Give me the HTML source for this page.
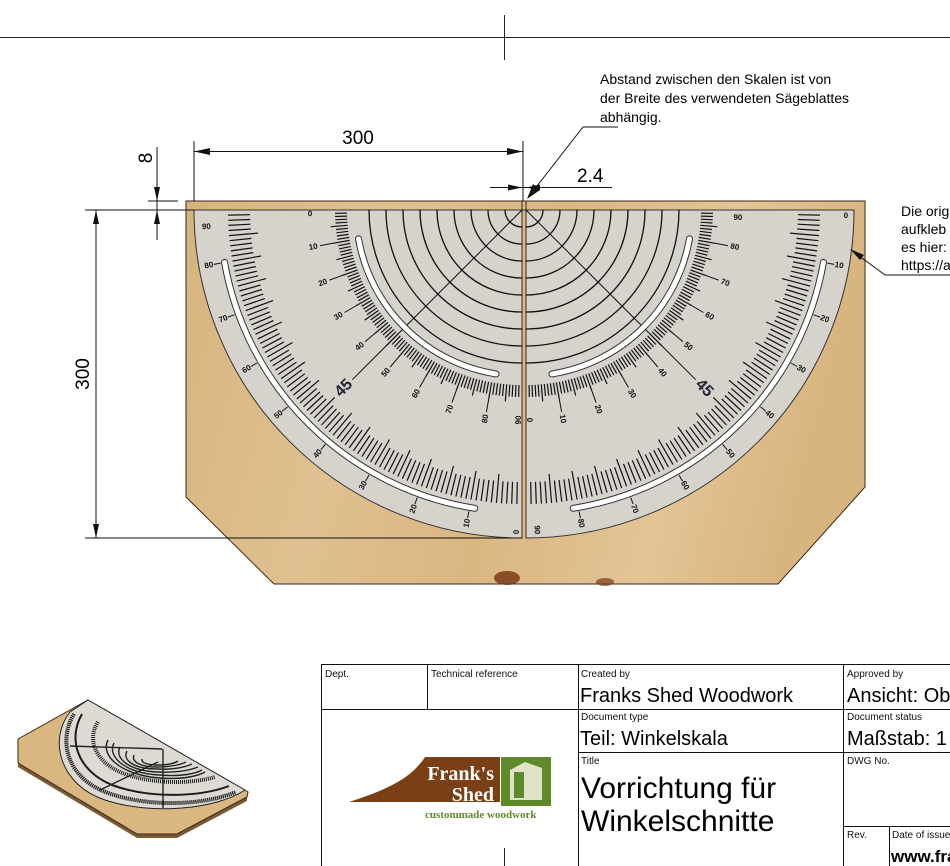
<!DOCTYPE html>
<html><head><meta charset="utf-8"><style>
html,body{margin:0;padding:0;background:#fff;}
svg{display:block;font-family:"Liberation Sans",Arial,sans-serif;}
.lbl{font-size:8px;fill:#111;text-anchor:middle;dominant-baseline:central;font-weight:bold}
.tb{font-size:10px;fill:#111}
.tv{font-size:20px;fill:#000}
</style></head><body>
<svg id="s" width="950" height="866" viewBox="0 0 950 866" xmlns="http://www.w3.org/2000/svg">
<defs>
<linearGradient id="wood" x1="0" y1="0" x2="1" y2="0.15">
<stop offset="0" stop-color="#d6b47e"/><stop offset="0.3" stop-color="#e0c090"/><stop offset="0.55" stop-color="#dab682"/><stop offset="0.8" stop-color="#e3c495"/><stop offset="1" stop-color="#d8b47f"/>
</linearGradient>
</defs>
<line x1="0" y1="37.5" x2="950" y2="37.5" stroke="#222" stroke-width="1"/>
<line x1="504.5" y1="15" x2="504.5" y2="60" stroke="#222"/>
<line x1="504.5" y1="848" x2="504.5" y2="866" stroke="#222"/>

<polygon points="186,201 865,201 865,487 778,584 274,584 186,497" fill="url(#wood)" stroke="#3a2a18" stroke-width="1"/>
<ellipse cx="507" cy="578" rx="13" ry="7" fill="#7a3a18" opacity="0.85"/>
<ellipse cx="605" cy="582" rx="9" ry="4" fill="#7a3a18" opacity="0.7"/>

<path d="M194,210 A328,328 0 0 0 522,538 L522,210 Z" fill="#d5d3cc" stroke="#333" stroke-width="1"/>
<path d="M526,210 L526,538 A328,328 0 0 0 854,210 Z" fill="#d5d3cc" stroke="#333" stroke-width="1"/>
<line x1="522" y1="201" x2="522" y2="538" stroke="#3a2a18"/>
<line x1="526" y1="201" x2="526" y2="538" stroke="#3a2a18"/>
<line x1="194" y1="210" x2="854" y2="210" stroke="#333"/>
<g id="ticks" stroke="#111" fill="none"></g>

<g class="lbl">
<text class="lbl" transform="rotate(-3 522 210)" x="206" y="210">90</text>
<text class="lbl" transform="rotate(-10 522 210)" x="204" y="210">80</text>
<text class="lbl" transform="rotate(-20 522 210)" x="204" y="210">70</text>
<text class="lbl" transform="rotate(-30 522 210)" x="204" y="210">60</text>
<text class="lbl" transform="rotate(-40 522 210)" x="204" y="210">50</text>
<text class="lbl" transform="rotate(-50 522 210)" x="204" y="210">40</text>
<text class="lbl" transform="rotate(-60 522 210)" x="204" y="210">30</text>
<text class="lbl" transform="rotate(-70 522 210)" x="204" y="210">20</text>
<text class="lbl" transform="rotate(-80 522 210)" x="204" y="210">10</text>
<text class="lbl" transform="rotate(-89 522 210)" x="200" y="210">0</text>
<text class="lbl" transform="rotate(-1 522 210)" x="310" y="210">0</text>
<text class="lbl" transform="rotate(-10 522 210)" x="310" y="210">10</text>
<text class="lbl" transform="rotate(-20 522 210)" x="310" y="210">20</text>
<text class="lbl" transform="rotate(-30 522 210)" x="310" y="210">30</text>
<text class="lbl" transform="rotate(-40 522 210)" x="310" y="210">40</text>
<text class="lbl" transform="rotate(-50 522 210)" x="310" y="210">50</text>
<text class="lbl" transform="rotate(-60 522 210)" x="310" y="210">60</text>
<text class="lbl" transform="rotate(-70 522 210)" x="310" y="210">70</text>
<text class="lbl" transform="rotate(-80 522 210)" x="310" y="210">80</text>
<text class="lbl" transform="rotate(-89 522 210)" x="312" y="210">90</text>
<text transform="rotate(-45 522 210)" x="270" y="210" style="font-size:16px;fill:#223;text-anchor:middle;dominant-baseline:central">45</text>
<text class="lbl" transform="rotate(1 526 210)" x="846" y="210">0</text>
<text class="lbl" transform="rotate(10 526 210)" x="844" y="210">10</text>
<text class="lbl" transform="rotate(20 526 210)" x="844" y="210">20</text>
<text class="lbl" transform="rotate(30 526 210)" x="844" y="210">30</text>
<text class="lbl" transform="rotate(40 526 210)" x="844" y="210">40</text>
<text class="lbl" transform="rotate(50 526 210)" x="844" y="210">50</text>
<text class="lbl" transform="rotate(60 526 210)" x="844" y="210">60</text>
<text class="lbl" transform="rotate(70 526 210)" x="844" y="210">70</text>
<text class="lbl" transform="rotate(80 526 210)" x="844" y="210">80</text>
<text class="lbl" transform="rotate(88 526 210)" x="846" y="210">90</text>
<text class="lbl" transform="rotate(2 526 210)" x="738" y="210">90</text>
<text class="lbl" transform="rotate(10 526 210)" x="738" y="210">80</text>
<text class="lbl" transform="rotate(20 526 210)" x="738" y="210">70</text>
<text class="lbl" transform="rotate(30 526 210)" x="738" y="210">60</text>
<text class="lbl" transform="rotate(40 526 210)" x="738" y="210">50</text>
<text class="lbl" transform="rotate(50 526 210)" x="738" y="210">40</text>
<text class="lbl" transform="rotate(60 526 210)" x="738" y="210">30</text>
<text class="lbl" transform="rotate(70 526 210)" x="738" y="210">20</text>
<text class="lbl" transform="rotate(80 526 210)" x="738" y="210">10</text>
<text class="lbl" transform="rotate(89 526 210)" x="736" y="210">0</text>
<text transform="rotate(45 526 210)" x="778" y="210" style="font-size:16px;fill:#223;text-anchor:middle;dominant-baseline:central">45</text>
</g>

<g stroke="#111" stroke-width="1" fill="none">
<line x1="194" y1="141" x2="194" y2="201"/>
<line x1="523" y1="141" x2="523" y2="201"/>
<line x1="194" y1="151.5" x2="523" y2="151.5"/>
<line x1="157" y1="147" x2="157" y2="240"/>
<line x1="148" y1="201" x2="178" y2="201"/>
<line x1="85" y1="210" x2="194" y2="210"/>
<line x1="85" y1="538" x2="522" y2="538"/>
<line x1="96" y1="210" x2="96" y2="538"/>
<line x1="490" y1="187.5" x2="612" y2="187.5"/>
<line x1="530" y1="195" x2="583" y2="127"/>
<line x1="583" y1="127" x2="618" y2="127"/>
<line x1="851" y1="250" x2="885" y2="275"/>
<line x1="885" y1="275" x2="950" y2="275"/>
</g>
<g fill="#111">
<polygon points="194,151.5 210,148 210,155"/>
<polygon points="523,151.5 507,148 507,155"/>
<polygon points="157,201 154,187 160,187"/>
<polygon points="157,210 154,224 160,224"/>
<polygon points="96,210 93,224 99,224"/>
<polygon points="96,538 93,524 99,524"/>
<polygon points="522,187.5 508,184.5 508,190.5"/>
<polygon points="526,187.5 540,184.5 540,190.5"/>
<polygon points="527,199 533,184 540,190"/>
<polygon points="850,249 864,255 860,260"/>
</g>
<text x="358" y="144" style="font-size:19px" text-anchor="middle">300</text>
<text transform="rotate(-90 152 158)" x="152" y="158" style="font-size:19px" text-anchor="middle">8</text>
<text transform="rotate(-90 89 374)" x="89" y="374" style="font-size:19px" text-anchor="middle">300</text>
<text x="577" y="182" style="font-size:19px">2.4</text>
<text x="600" y="84" style="font-size:14px">Abstand zwischen den Skalen ist von</text>
<text x="600" y="103" style="font-size:14px">der Breite des verwendeten Sägeblattes</text>
<text x="600" y="122" style="font-size:14px">abhängig.</text>
<text x="901" y="216" style="font-size:14px">Die orig</text>
<text x="901" y="234" style="font-size:14px">aufkleb</text>
<text x="901" y="252" style="font-size:14px">es hier:</text>
<text x="901" y="270" style="font-size:14px">https://a</text>

<!-- iso view -->
<path d="M18,763 L137,834 L177,834 L247,797 L247,801 L177,838 L137,838 L18,767Z" fill="#7a5a34"/>
<path d="M88,700 L248,792 L247,797 L177,834 L137,834 L18,763 L18,739 Z" fill="#dab680" stroke="#3a2a18"/>
<path d="M88,700 L245,790 C215,810 150,815 105,800 C60,785 48,740 70,712 Z" fill="#dcdad3" stroke="#222"/>
<g fill="none" stroke="#1a1a1a">
<path d="M74,714 C58,740 66,778 108,793 C150,808 205,805 236,792" stroke-width="4" stroke-dasharray="1.2 0.8"/>
<path d="M82,714 C68,738 76,770 112,785 C150,799 200,797 229,786" stroke-width="2"/>
<path d="M98,722 C86,740 96,765 128,775 C160,785 195,783 215,777" stroke-width="4" stroke-dasharray="1 1"/>
</g>
<g fill="none" stroke="#222" stroke-width="1.4">
<path d="M108,740 C100,755 120,775 160,778 C185,780 200,775 205,772"/>
<path d="M114,743 C107,756 124,773 159,775 C183,777 197,773 202,770"/>
<path d="M120,747 C114,758 129,771 158,772 C180,773 193,769 198,767"/>
<path d="M127,751 C122,760 134,769 157,769 C176,770 188,766 192,764"/>
<path d="M134,755 C131,762 141,767 157,767 C172,767 182,764 186,762"/>
<path d="M142,759 C141,763 148,765 158,765 C168,765 175,763 178,761"/>
<line x1="70" y1="746" x2="162" y2="749"/><line x1="163" y1="749" x2="163" y2="808"/>
<line x1="100" y1="790" x2="158" y2="762"/>
</g>

<g stroke="#111" stroke-width="1" fill="none">
<rect x="321.5" y="664.5" width="640" height="210"/>
<line x1="427.5" y1="664" x2="427.5" y2="709"/>
<line x1="578.5" y1="664" x2="578.5" y2="866"/>
<line x1="843.5" y1="664" x2="843.5" y2="866"/>
<line x1="321" y1="709.5" x2="950" y2="709.5"/>
<line x1="578" y1="752.5" x2="950" y2="752.5"/>
<line x1="843" y1="826.5" x2="950" y2="826.5"/>
<line x1="889.5" y1="826" x2="889.5" y2="866"/>
</g>
<text class="tb" x="325" y="677">Dept.</text>
<text class="tb" x="431" y="677">Technical reference</text>
<text class="tb" x="581" y="677">Created by</text>
<text class="tv" x="580" y="702">Franks Shed Woodwork</text>
<text class="tb" x="847" y="677">Approved by</text>
<text class="tv" x="847" y="702">Ansicht: Ob</text>
<text class="tb" x="581" y="720">Document type</text>
<text class="tv" x="580" y="745">Teil: Winkelskala</text>
<text class="tb" x="847" y="720">Document status</text>
<text class="tv" x="847" y="745">Maßstab: 1</text>
<text class="tb" x="581" y="764">Title</text>
<text x="581" y="798" style="font-size:30px">Vorrichtung für</text>
<text x="581" y="831" style="font-size:30px">Winkelschnitte</text>
<text class="tb" x="847" y="764">DWG No.</text>
<text class="tb" x="847" y="838">Rev.</text>
<text class="tb" x="892" y="838">Date of issue</text>
<text x="891" y="862" style="font-size:17px;font-weight:bold">www.fran</text>
<path d="M349,802 C385,790 410,780 425,757 L500,757 L500,802 Z" fill="#7a3f14"/>
<text x="494" y="780" style="font-family:'Liberation Serif',serif;font-size:20px;font-weight:bold;fill:#fff" text-anchor="end">Frank's</text>
<text x="494" y="801" style="font-family:'Liberation Serif',serif;font-size:20px;font-weight:bold;fill:#fff" text-anchor="end">Shed</text>
<rect x="501" y="757" width="50" height="49" fill="#5e8a2a"/>
<path d="M510,800 L510,770 L525,762 L542,768 L542,800 Z" fill="#dfe3c8"/>
<rect x="514" y="772" width="10" height="26" fill="#5e8a2a"/>
<text x="425" y="818" style="font-family:'Liberation Serif',serif;font-size:11px;fill:#5e8a2a;font-weight:bold">custommade woodwork</text>
</svg>
<script>
(function(){
var g=document.getElementById('ticks'),NS='http://www.w3.org/2000/svg';
function ln(x1,y1,x2,y2,w){var l=document.createElementNS(NS,'line');l.setAttribute('x1',x1.toFixed(1));l.setAttribute('y1',y1.toFixed(1));l.setAttribute('x2',x2.toFixed(1));l.setAttribute('y2',y2.toFixed(1));l.setAttribute('stroke-width',w||1);g.appendChild(l);}
function pt(side,r,a){var cx=side<0?522:526;var rad=a*Math.PI/180;return [cx+side*r*Math.cos(rad),210+r*Math.sin(rad)];}
function seg(side,r1,r2,a,w){var p=pt(side,r1,a),q=pt(side,r2,a);ln(p[0],p[1],q[0],q[1],w);}
function arc(side,r,a1,a2,w,col){var p=document.createElementNS(NS,'path');var s=pt(side,r,a1),e=pt(side,r,a2);
p.setAttribute('d','M'+s[0]+','+s[1]+' A'+r+','+r+' 0 0 '+(side<0?0:1)+' '+e[0]+','+e[1]);p.setAttribute('stroke-width',w);p.setAttribute('stroke',col);p.setAttribute('stroke-linecap','round');p.setAttribute('fill','none');g.appendChild(p);}
[-1,1].forEach(function(sd){
 for(var k=1;k<=9;k++)arc(sd,17*k,0,90,1.3,'#111');
 seg(sd,0,240,45,1);
 for(var a=1;a<=89;a++){
  var m5=a%5==0,m10=a%10==0;
  seg(sd,175,m5?192:187,a,1.2);
  if(m10)seg(sd,192,205,a,1);
  seg(sd,m5?265:272,294,a,1.2);
  if(m10)seg(sd,306,313,a,1);
 }
 arc(sd,166,10,81,7,'#333');arc(sd,166,10,81,5,'#fff');
 arc(sd,302,10,81,7,'#333');arc(sd,302,10,81,5,'#fff');
});
})();
</script>
</body></html>
